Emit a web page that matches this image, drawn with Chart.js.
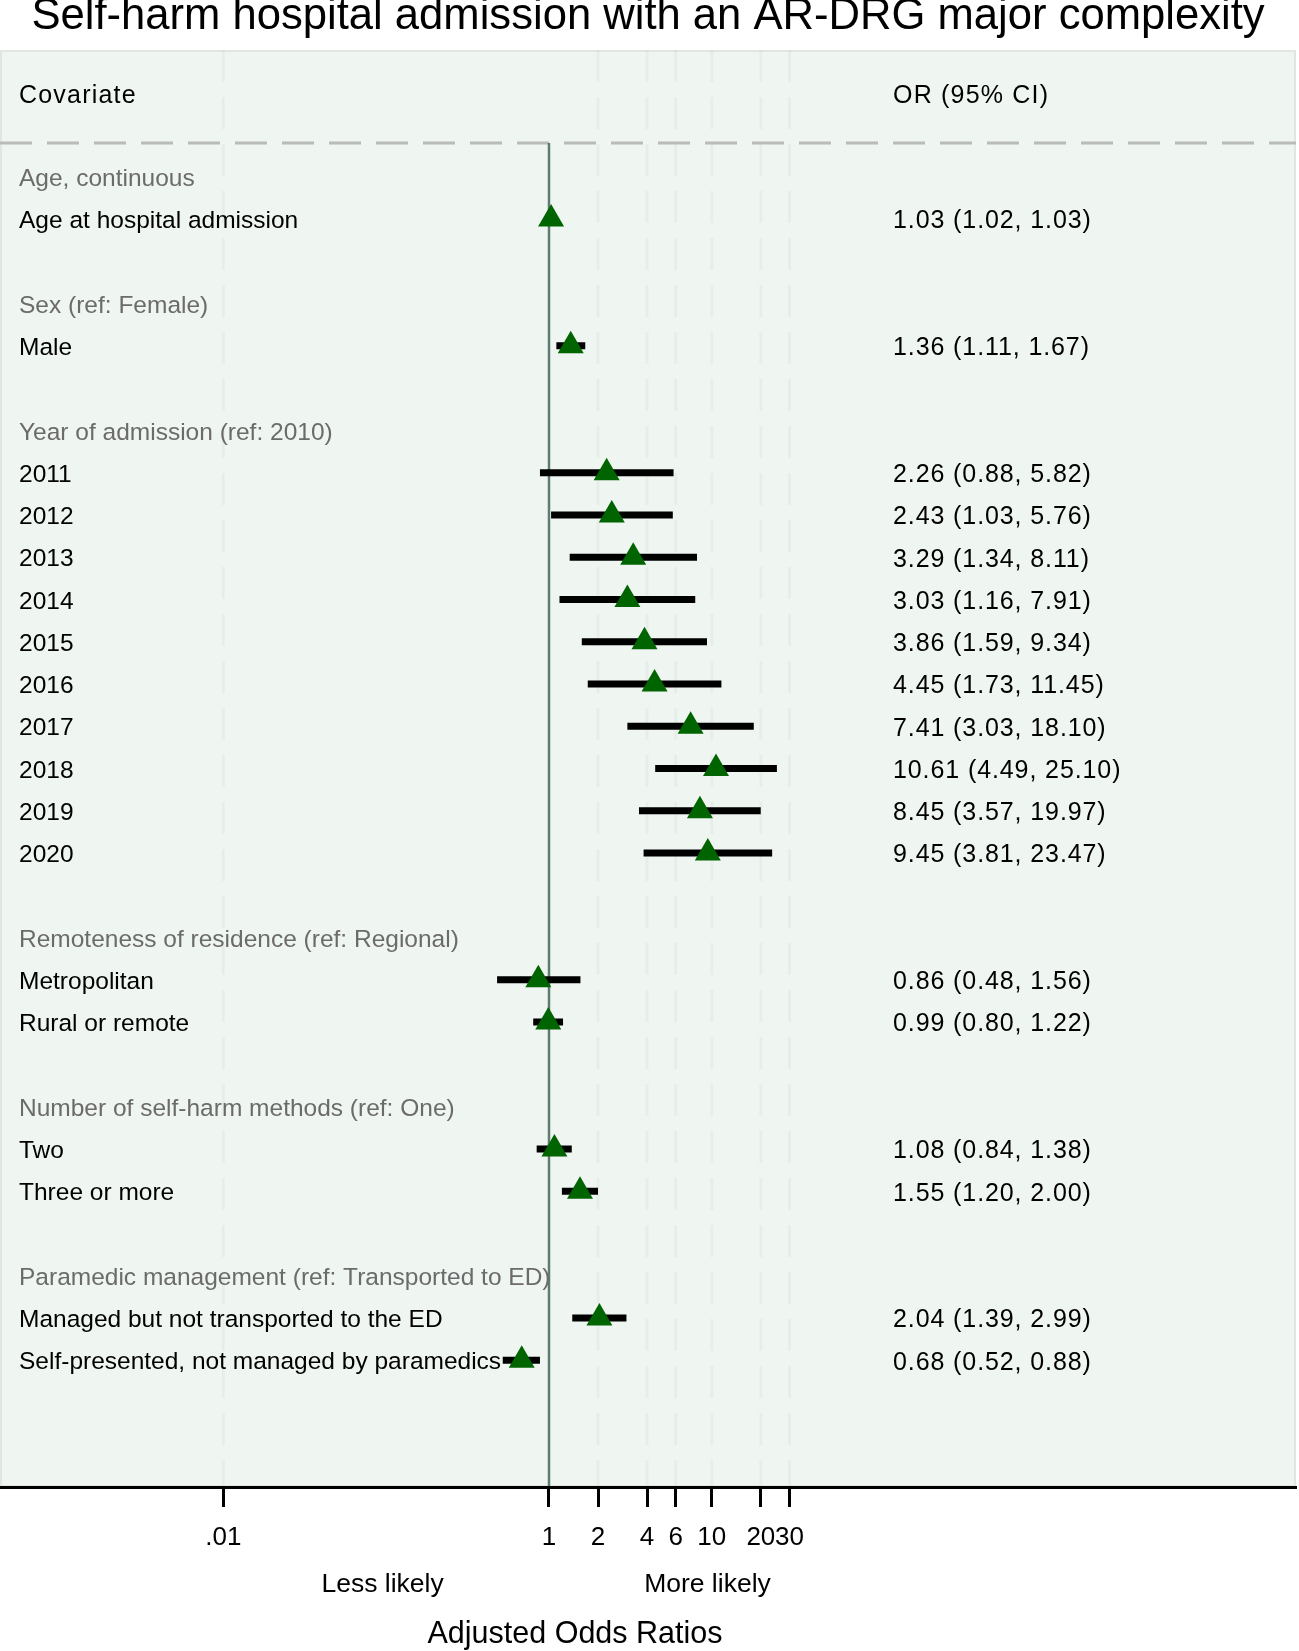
<!DOCTYPE html>
<html>
<head>
<meta charset="utf-8">
<script src="https://cdn.jsdelivr.net/npm/chart.js@4"></script>
<style>
  html, body { margin: 0; padding: 0; background: #fff; }
  canvas { display: block; }
</style>
</head>
<body>
<canvas id="forestChart" width="1299" height="1651"></canvas>
<script>
// Rows of the forest plot, top to bottom (blank strings are spacer rows)
const rowLabels = [
  'Age, continuous', 'Age at hospital admission', '',
  'Sex (ref: Female)', 'Male', '',
  'Year of admission (ref: 2010)', '2011', '2012', '2013', '2014', '2015',
  '2016', '2017', '2018', '2019', '2020', '',
  'Remoteness of residence (ref: Regional)', 'Metropolitan', 'Rural or remote', '',
  'Number of self-harm methods (ref: One)', 'Two', 'Three or more', '',
  'Paramedic management (ref: Transported to ED)',
  'Managed but not transported to the ED',
  'Self-presented, not managed by paramedics'
];
const headingRows = [0, 3, 6, 18, 22, 26];

const oddsRatio = [null, 1.03, null, null, 1.36, null, null,
  2.26, 2.43, 3.29, 3.03, 3.86, 4.45, 7.41, 10.61, 8.45, 9.45, null,
  null, 0.86, 0.99, null, null, 1.08, 1.55, null, null, 2.04, 0.68];
const ciLower = [null, 1.02, null, null, 1.11, null, null,
  0.88, 1.03, 1.34, 1.16, 1.59, 1.73, 3.03, 4.49, 3.57, 3.81, null,
  null, 0.48, 0.80, null, null, 0.84, 1.20, null, null, 1.39, 0.52];
const ciUpper = [null, 1.03, null, null, 1.67, null, null,
  5.82, 5.76, 8.11, 7.91, 9.34, 11.45, 18.10, 25.10, 19.97, 23.47, null,
  null, 1.56, 1.22, null, null, 1.38, 2.00, null, null, 2.99, 0.88];

const tickValues = [0.01, 1, 2, 4, 6, 10, 20, 30];
const tickLabels = ['.01', '1', '2', '4', '6', '10', '20', '30'];

const FONT = "'Liberation Sans', Arial, sans-serif";

const pointData = [];
const ciData = [];
oddsRatio.forEach((v, i) => {
  if (v === null) return;
  pointData.push({ x: v, y: i });
  ciData.push({ x: ciLower[i], y: i }, { x: ciUpper[i], y: i }, { x: null, y: null });
});

const forestDecor = {
  id: 'forestDecor',
  beforeDraw(chart) {
    const { ctx, chartArea: a, scales: { x, y } } = chart;
    ctx.save();
    ctx.fillStyle = '#fff';
    ctx.fillRect(0, 0, chart.width, chart.height);
    // plot region
    ctx.fillStyle = '#eff5f0';
    ctx.fillRect(a.left, a.top, a.right - a.left, a.bottom - a.top);
    ctx.strokeStyle = '#e1e6e2';
    ctx.lineWidth = 2;
    ctx.strokeRect(a.left + 1, a.top + 1, a.right - a.left - 2, a.bottom - a.top - 2);
    // faint dashed grid at ticks
    ctx.strokeStyle = 'rgba(0,0,0,0.03)';
    ctx.lineWidth = 3;
    ctx.setLineDash([32, 15]);
    tickValues.forEach(v => {
      if (v === 1) return;
      const px = x.getPixelForValue(v);
      ctx.beginPath();
      ctx.moveTo(px, a.top);
      ctx.lineTo(px, a.bottom);
      ctx.stroke();
    });
    // header separator
    const sepY = y.getPixelForValue(-0.8);
    ctx.strokeStyle = '#b9bcb9';
    ctx.lineWidth = 3;
    ctx.beginPath();
    ctx.moveTo(a.left, sepY);
    ctx.lineTo(a.right, sepY);
    ctx.stroke();
    // reference line at OR = 1
    ctx.setLineDash([]);
    ctx.strokeStyle = '#5d7d72';
    ctx.lineWidth = 2.5;
    const refX = x.getPixelForValue(1);
    ctx.beginPath();
    ctx.moveTo(refX, sepY);
    ctx.lineTo(refX, a.bottom);
    ctx.stroke();
    ctx.restore();
  },
  afterDraw(chart) {
    const { ctx, chartArea: a, scales: { x, y } } = chart;
    ctx.save();
    ctx.fillStyle = '#000';
    ctx.font = '43.6px ' + FONT;
    ctx.textAlign = 'center';
    ctx.textBaseline = 'alphabetic';
    ctx.fillText('Self-harm hospital admission with an AR-DRG major complexity', (a.left + a.right) / 2, 29);

    const labelX = a.left + 19;
    const orX = 893;
    const headY = y.getPixelForValue(-2) + 4;
    ctx.textAlign = 'left';
    ctx.textBaseline = 'middle';
    ctx.font = '25px ' + FONT;
    ctx.letterSpacing = '1.2px';
    ctx.fillText('Covariate', labelX, headY);
    ctx.fillText('OR (95% CI)', orX, headY);
    rowLabels.forEach((lab, i) => {
      const py = y.getPixelForValue(i) + 2.5;
      ctx.font = '24.5px ' + FONT;
      ctx.letterSpacing = '0px';
      ctx.fillStyle = headingRows.includes(i) ? '#6b6b6b' : '#000';
      ctx.fillText(lab, labelX, py);
      if (oddsRatio[i] !== null) {
        ctx.font = '25px ' + FONT;
        ctx.letterSpacing = '0.9px';
        ctx.fillStyle = '#000';
        ctx.fillText(oddsRatio[i].toFixed(2) + ' (' + ciLower[i].toFixed(2) + ', ' + ciUpper[i].toFixed(2) + ')', orX, py);
      }
    });

    ctx.letterSpacing = '0px';
    ctx.fillStyle = '#000';
    ctx.textAlign = 'center';
    ctx.font = '26.5px ' + FONT;
    ctx.fillText('Less likely', x.getPixelForValue(0.095), 1585);
    ctx.fillText('More likely', x.getPixelForValue(9.4), 1585);
    ctx.font = '30.5px ' + FONT;
    ctx.fillText('Adjusted Odds Ratios', 575, 1635);
    ctx.restore();
  }
};

new Chart(document.getElementById('forestChart'), {
  data: {
    datasets: [{
      type: 'scatter',
      label: 'Adjusted OR',
      data: pointData,
      pointStyle: 'triangle',
      pointRadius: 15,
      pointHoverRadius: 15,
      backgroundColor: '#006400',
      borderWidth: 0,
      order: 0
    }, {
      type: 'line',
      label: '95% CI',
      data: ciData,
      borderColor: '#000',
      borderWidth: 7,
      borderCapStyle: 'butt',
      pointRadius: 0,
      spanGaps: false,
      fill: false,
      order: 1
    }]
  },
  options: {
    responsive: false,
    animation: false,
    devicePixelRatio: 1,
    layout: { autoPadding: false, padding: { top: 50, right: 3, left: 0, bottom: 0 } },
    plugins: {
      legend: { display: false },
      tooltip: { enabled: false },
      title: { display: false }
    },
    scales: {
      x: {
        type: 'logarithmic',
        min: 0.000425,
        max: 38700,
        afterBuildTicks: (scale) => { scale.ticks = tickValues.map(v => ({ value: v })); },
        afterFit: (scale) => { scale.height = 164; },
        ticks: {
          autoSkip: false,
          maxRotation: 0,
          padding: 15,
          color: '#000',
          font: { family: FONT, size: 26 },
          callback: (value) => tickLabels[tickValues.indexOf(value)]
        },
        grid: {
          drawOnChartArea: false,
          tickLength: 20,
          tickWidth: 3,
          tickColor: '#000'
        },
        border: { display: true, color: '#000', width: 3 }
      },
      y: {
        type: 'linear',
        reverse: true,
        min: -3,
        max: 31,
        display: false
      }
    }
  },
  plugins: [forestDecor]
});
</script>
</body>
</html>
